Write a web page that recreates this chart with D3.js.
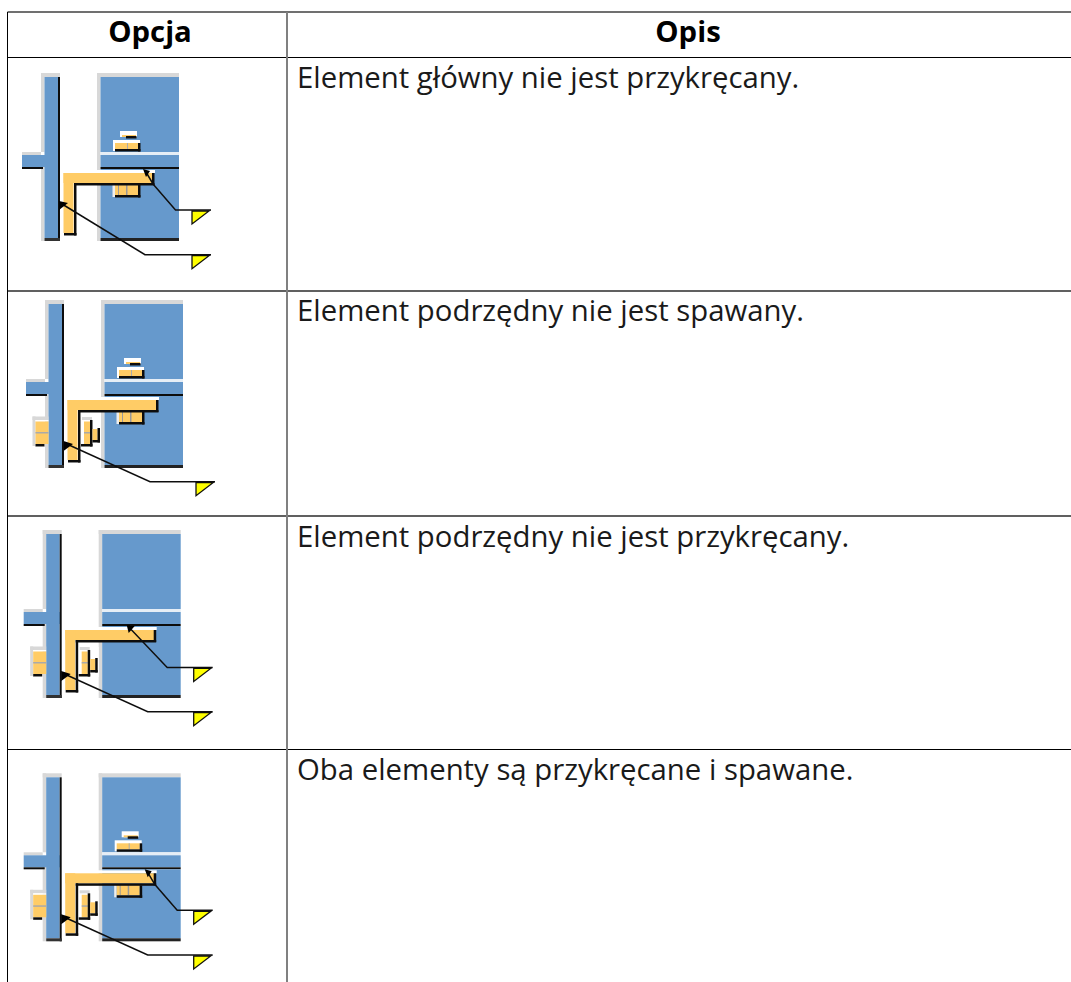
<!DOCTYPE html>
<html>
<head>
<meta charset="utf-8">
<script src="https://d3js.org/d3.v7.min.js"></script>
<style>
html, body { margin: 0; padding: 0; background: #fff; overflow: hidden; }
text { font-family: "Open Sans", "Noto Sans", sans-serif; fill: #1a1a1a; }
.head { font-size: 29.33px; font-weight: 700; fill: #000; text-anchor: middle; }
.desc { font-size: 29.33px; }
</style>
</head>
<body>
<script>
//Table content
var headers = ["Opcja", "Opis"];
var descriptions = [
  "Element główny nie jest przykręcany.",
  "Element podrzędny nie jest spawany.",
  "Element podrzędny nie jest przykręcany.",
  "Oba elementy są przykręcane i spawane."
];

//What each little drawing shows, per row
var boltsShown = [true, true, false, true];
var sideWelds = [false, true, true, true];
var upperLeader = ["end", "none", "middle", "end"];
var lowerArrow = ["high", "low", "low", "low"];

//Formats
var width = 1071, height = 982;
var colLeft = 7.5, colSep = 287;
var headTop = 12, headBottom = 57.5;

var blue = "#6699cc", orange = "#ffcc66", yellow = "#ffff00";
var grey = "#d8d8d8", dark = "#111";

//Row placement
var rowTop = d3.scaleOrdinal().domain(descriptions).range([57, 291, 516, 749.5]);
var iconX = d3.scaleOrdinal().domain(descriptions).range([0, 4, 1.7, 1.7]);
var iconY = d3.scaleOrdinal().domain(descriptions).range([0, 227, 457, 700.3]);
var textY = d3.scaleOrdinal().domain(descriptions).range([88, 321, 547, 780]);

var svg = d3.select("body").append("svg")
  .attr("width", width)
  .attr("height", height)
  .style("display", "block");

svg.append("defs").append("filter")
  .attr("id", "soft")
  .attr("x", "-5%").attr("y", "-5%").attr("width", "110%").attr("height", "110%")
  .append("feGaussianBlur")
  .attr("stdDeviation", 0.55);

//Grid lines
function rule(x1, y1, x2, y2, col, sw) {
  svg.append("line")
    .attr("x1", x1).attr("y1", y1).attr("x2", x2).attr("y2", y2)
    .attr("stroke", col).attr("stroke-width", sw);
}

rule(colLeft, headTop, width, headTop, "#707070", 2);
rule(colLeft, headBottom, width, headBottom, "#000", 1);
rule(colLeft, rowTop(descriptions[1]), width, rowTop(descriptions[1]), "#606060", 2);
rule(colLeft, rowTop(descriptions[2]), width, rowTop(descriptions[2]), "#606060", 2);
rule(colLeft, rowTop(descriptions[3]), width, rowTop(descriptions[3]), "#000", 1);
rule(colLeft, headTop, colLeft, height, "#000", 1);
rule(colSep, headTop, colSep, height, "#808080", 2);

//Header
svg.selectAll(".head")
  .data(headers)
  .enter().append("text")
  .attr("class", "head")
  .attr("x", function(d, i) { return i == 0 ? 150 : 688; })
  .attr("y", 41.5)
  .text(function(d) { return d; });

//Descriptions
svg.selectAll(".desc")
  .data(descriptions)
  .enter().append("text")
  .attr("class", "desc")
  .attr("x", 297)
  .attr("y", function(d) { return textY(d); })
  .text(function(d) { return d; });

//Icons
descriptions.forEach(function(d, i) {
  var g = svg.append("g")
    .attr("filter", "url(#soft)")
    .attr("transform", "translate(" + iconX(d) + "," + iconY(d) + ")");

  function box(x0, y0, x1, y1, fill) {
    g.append("rect")
      .attr("x", x0).attr("y", y0)
      .attr("width", x1 - x0).attr("height", y1 - y0)
      .attr("fill", fill);
  }

  function leader(points) {
    g.append("path")
      .attr("d", d3.line()(points))
      .attr("fill", "none")
      .attr("stroke", dark)
      .attr("stroke-width", 1.5);
  }

  function flag(y) {
    g.append("path")
      .attr("d", d3.line().curve(d3.curveLinearClosed)([[192, y + 1], [209, y + 1], [192, y + 14]]))
      .attr("fill", yellow)
      .attr("stroke", dark)
      .attr("stroke-width", 1.3);
  }

  //Left column, grey edge then blue
  box(41, 73, 60, 77, grey);
  box(41, 73, 44.5, 152, grey);
  box(41, 166, 44.5, 241, grey);
  box(22, 152, 41, 155, grey);
  box(22, 155, 59, 167, blue);
  box(44.5, 77, 58, 238, blue);
  box(22, 167, 43, 169, dark);
  box(58, 77, 60, 241, dark);
  box(44.5, 238, 60, 241, "#333");

  //Right block
  box(97, 73, 179, 77, grey);
  box(97, 73, 100.5, 241, grey);
  box(100.5, 77, 179, 152, blue);
  box(100.5, 152, 179, 155, "#e6eef6");
  box(100.5, 155, 179, 167, blue);
  box(100.5, 167, 179, 169, dark);
  box(100.5, 169, 179, 238, blue);
  box(100.5, 238, 179, 241, "#222");

  //Bolts above and below the flange
  if (boltsShown[i]) {
    box(120, 131, 137, 137, "#fff");
    box(122, 135, 136, 137, orange);
    box(126, 136, 136.5, 138.5, dark);
    box(113, 140, 140, 151, "#fff");
    box(115, 143, 138, 149, orange);
    box(127, 143, 128, 149, "#aaa");
    box(138, 143, 140.5, 151.5, dark);
    box(115, 149, 140.5, 151.5, dark);

    box(112.5, 184, 115, 197, "#eee");
    box(115, 184, 138, 195, orange);
    box(118, 185, 119, 195, "#999");
    box(126, 185, 127.5, 195, "#999");
    box(138, 185, 140.5, 197.5, dark);
    box(115, 195, 140.5, 197.5, dark);
  }

  //Welds either side of the column
  if (sideWelds[i]) {
    box(28.5, 189.5, 44.5, 193, grey);
    box(28.5, 189.5, 31.5, 219, grey);
    box(31.5, 193, 44.5, 194.5, "#fff");
    box(31.5, 194.5, 44.5, 217, orange);
    box(31.5, 205, 44.5, 206.5, "#aaa");
    box(31.5, 217, 40.5, 219.5, dark);

    box(76, 190, 97, 220, "#fff");
    box(78, 190, 88, 193, grey);
    box(80, 194.5, 86, 217, orange);
    box(80, 205, 86, 206.5, "#aaa");
    box(86, 193, 88.5, 219.5, dark);
    box(77, 217, 88.5, 219.5, dark);
    box(88.5, 202, 93.5, 213, orange);
    box(93.5, 201, 96, 215.5, dark);
    box(88.5, 213, 96, 215.5, dark);
  }

  //Angle plate
  box(61, 170, 155, 173, "#fff");
  box(61, 170, 63.5, 233, "#fff");
  box(63.5, 173, 153, 183, orange);
  box(63.5, 173, 73.5, 233, orange);
  box(74, 183, 154.5, 185.5, dark);
  box(74, 183, 76.5, 235.5, dark);
  box(64, 233, 76.5, 235.5, dark);
  box(152, 173, 154.5, 185, dark);

  //Leaders with their flags
  if (upperLeader[i] == "end") {
    leader([[146, 172], [153, 184], [175.5, 210], [211, 210]]);
    g.append("path").attr("d", "M143,169L150,171L146,177Z").attr("fill", "#000");
    flag(210);
  }
  if (upperLeader[i] == "middle") {
    leader([[128, 171], [165.5, 210.4], [211, 210.4]]);
    g.append("path").attr("d", "M125,168L133,169L127,176Z").attr("fill", "#000");
    flag(210.4);
  }
  if (lowerArrow[i] == "high") {
    leader([[62, 204], [145, 254.7], [211, 254.7]]);
    g.append("path").attr("d", "M59,210L59,201L68,203Z").attr("fill", "#000");
  } else {
    leader([[65, 218], [146, 254.7], [211, 254.7]]);
    g.append("path").attr("d", "M59.5,224L59.5,214L69,217Z").attr("fill", "#000");
  }
  flag(254.7);
});
</script>
</body>
</html>
